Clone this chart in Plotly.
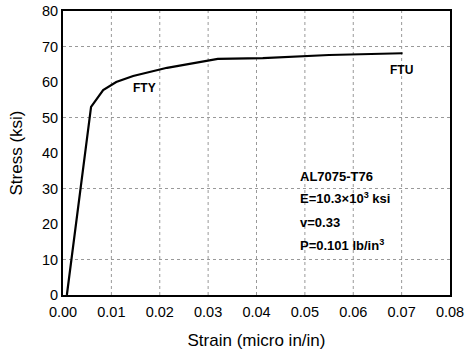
import plotly.graph_objects as go

strain = [0.0008, 0.0058, 0.0083, 0.011, 0.0145, 0.0215, 0.032, 0.0413, 0.055, 0.0702]
stress = [0, 53, 57.7, 60, 61.7, 64, 66.5, 66.7, 67.6, 68.1]

x_ticks = [0.00, 0.01, 0.02, 0.03, 0.04, 0.05, 0.06, 0.07, 0.08]
x_labels = ["0.00", "0.01", "0.02", "0.03", "0.04", "0.05", "0.06", "0.07", "0.08"]
y_ticks = [0, 10, 20, 30, 40, 50, 60, 70, 80]
y_grid = [10, 30, 50, 70]

fig = go.Figure()
fig.add_trace(go.Scatter(x=strain, y=stress, mode="lines",
                         line=dict(color="black", width=2.2), showlegend=False,
                         hoverinfo="skip"))

for g in y_grid:
    fig.add_shape(type="line", xref="x", yref="y", x0=0, x1=0.08, y0=g, y1=g,
                  line=dict(color="#999", width=1, dash="dot"), layer="below")
for g in x_ticks[1:-1]:
    fig.add_shape(type="line", xref="x", yref="y", x0=g, x1=g, y0=0, y1=80,
                  line=dict(color="#999", width=1, dash="dot"), layer="below")

tf = dict(family="Liberation Sans, Arial", size=12, color="black")
pf = dict(family="Liberation Sans, Arial", size=13, color="black")
fig.add_annotation(x=0.0168, y=58.3, text="<b>FTY</b>", showarrow=False, font=tf)
fig.add_annotation(x=0.0699, y=63.4, text="<b>FTU</b>", showarrow=False, font=tf)
props = ["<b>AL7075-T76</b>", "<b>E=10.3×10<sup>3</sup> ksi</b>", "<b>v=0.33</b>",
         "<b>P=0.101 lb/in<sup>3</sup></b>"]
prop_y = [33.3, 27.2, 20.5, 14.1]
for t, yy in zip(props, prop_y):
    fig.add_annotation(x=0.0485, y=yy, text=t, showarrow=False, xanchor="left",
                       yanchor="middle", font=pf)

axfont = dict(family="Liberation Sans, Arial", size=14.5, color="black")
titlefont = dict(family="Liberation Sans, Arial", size=17, color="black")
fig.update_layout(
    width=471, height=353,
    margin=dict(l=63, r=21, t=11, b=58),
    plot_bgcolor="white", paper_bgcolor="white",
    xaxis=dict(range=[0, 0.08], tickvals=x_ticks, ticktext=x_labels, showgrid=False,
               zeroline=False, showline=True, linecolor="black", linewidth=2, mirror=True,
               ticks="", tickfont=axfont, automargin=False, ticklabelstandoff=3,
               title=dict(text="Strain (micro in/in)", font=titlefont)),
    yaxis=dict(range=[0, 80], tickvals=y_ticks, showgrid=False, zeroline=False,
               showline=True, linecolor="black", linewidth=2, mirror=True,
               ticks="", tickfont=axfont, automargin=False,
               title=dict(text="Stress (ksi)", font=titlefont)),
)
fig.write_html("out.html", config={"displayModeBar": False},
               post_script="document.body.style.margin='0';")
